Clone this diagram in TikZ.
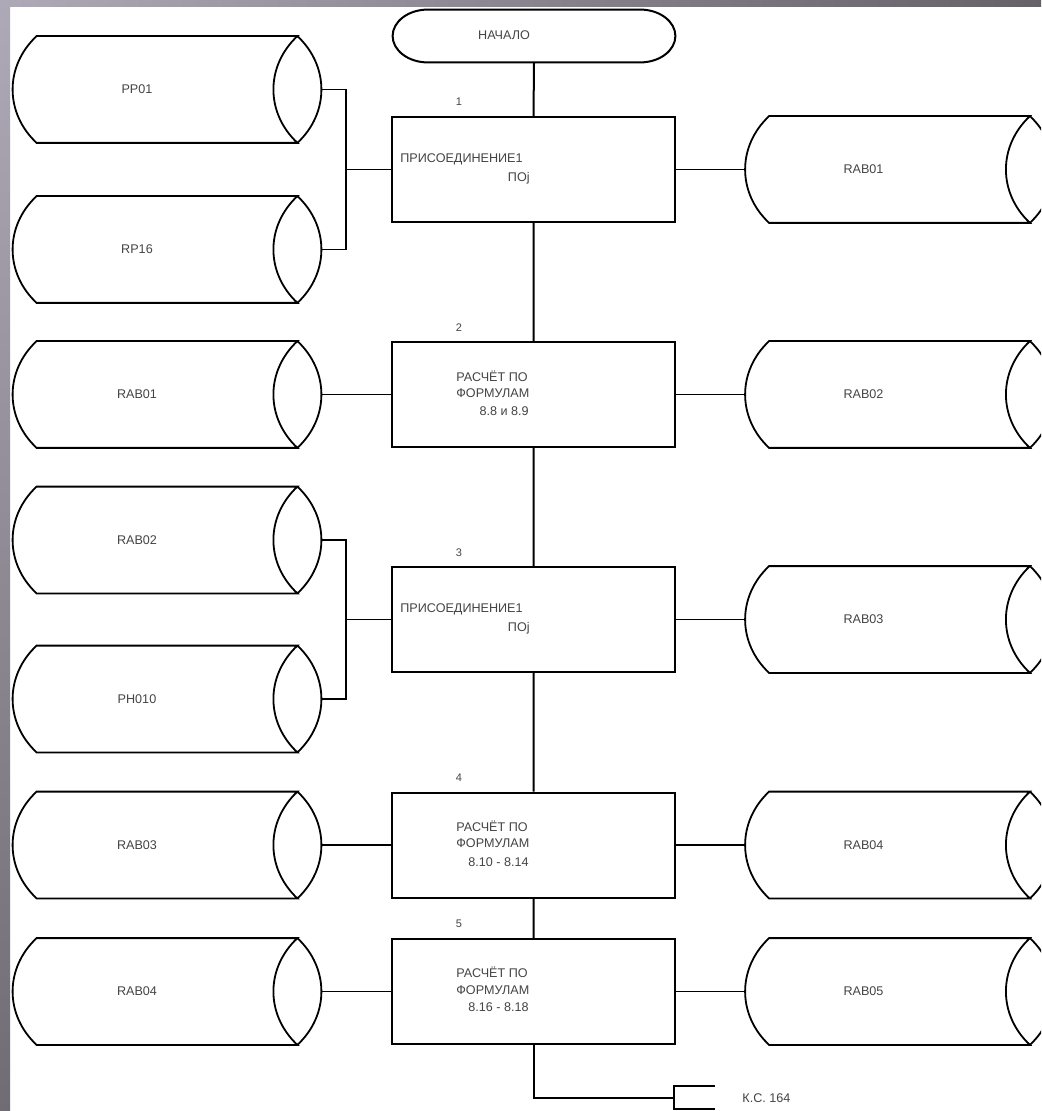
\documentclass[tikz,border=0pt]{standalone}
\usepackage{fontspec}
\setmainfont{Liberation Sans}
\definecolor{inkgray}{RGB}{68,68,68}
\definecolor{frameA}{RGB}{174,169,182}
\definecolor{frameB}{RGB}{112,108,116}
\begin{document}
\begin{tikzpicture}[x=0.5pt,y=-0.5pt,
  every node/.style={font=\fontsize{6.3}{7.5}\selectfont, text=inkgray, inner sep=0pt},
  boxline/.style={draw=black, line width=1pt},
  conn/.style={draw=black, line width=0.6pt},
  opbox/.style={boxline, minimum width=141.5pt, minimum height=52.5pt},
  termbox/.style={minimum width=141pt, minimum height=26pt},
  drum/.style={minimum width=130pt, minimum height=53pt},
  drumL/.style={drum, label={[xshift=-15pt]center:#1}},
  drumR/.style={drum, label={[xshift=-18pt]center:#1}},
  drumline/.style={draw=black, line width=0.9pt},
  numtext/.style={font=\fontsize{5.5}{6}\selectfont}]

\useasboundingbox (0,0) rectangle (1041,1111);
\clip (0,0) rectangle (1041,1111);
\fill[white] (0,0) rectangle (1041,1111);
\shade[top color=frameA, bottom color=frameB] (0,0) rectangle (10,1111);
\shade[left color=frameA, right color=frameB!90!black] (0,0) rectangle (1041,7);

% start terminal
\node[termbox] (T) at (534,36) {};
\node (Tt) at (504,35) {НАЧАЛО};
\draw[boxline] ([xshift=17.5pt]T.north west) -- ([xshift=-17.5pt]T.north east)
  .. controls +(19.3,0) and +(0,-14.4) .. (T.east)
  .. controls +(0,14.4) and +(19.3,0) .. ([xshift=-17.5pt]T.south east)
  -- ([xshift=17.5pt]T.south west)
  .. controls +(-19.3,0) and +(0,14.4) .. (T.west)
  .. controls +(0,-14.4) and +(-19.3,0) .. cycle;

% process blocks
\node[opbox] (B1) at (533.5,169.5) {};
\node[opbox] (B2) at (533.5,394.5) {};
\node[opbox] (B3) at (533.5,619.5) {};
\node[opbox] (B4) at (533.5,845) {};
\node[opbox] (B5) at (533.5,991.5) {};

\node[numtext] (n1) at (459,102) {1};
\node[numtext] (n2) at (459,328) {2};
\node[numtext] (n3) at (459,553) {3};
\node[numtext] (n4) at (459,778) {4};
\node[numtext] (n5) at (459,924) {5};

\node[anchor=west] (b1a) at (400,159) {ПРИСОЕДИНЕНИЕ1};
\node[anchor=east] (b1b) at (530,178) {ПОj};
\node[anchor=west] (b2a) at (456,376) {РАСЧЁТ ПО};
\node[anchor=west] (b2b) at (456,393) {ФОРМУЛАМ};
\node[anchor=east] (b2c) at (529,411) {8.8 и 8.9};
\node[anchor=west] (b3a) at (400,609) {ПРИСОЕДИНЕНИЕ1};
\node[anchor=east] (b3b) at (530,628) {ПОj};
\node[anchor=west] (b4a) at (456,826) {РАСЧЁТ ПО};
\node[anchor=west] (b4b) at (456,843) {ФОРМУЛАМ};
\node[anchor=east] (b4c) at (529,862) {8.10 - 8.14};
\node[anchor=west] (b5a) at (456,972) {РАСЧЁТ ПО};
\node[anchor=west] (b5b) at (456,990) {ФОРМУЛАМ};
\node[anchor=east] (b5c) at (529,1007) {8.16 - 8.18};

% data drums, left column
\node[drumL=PP01]  (L1) at (167,89.5) {};
\node[drumL=RP16]  (L2) at (167,249.5) {};
\node[drumL=RAB01] (L3) at (167,394.5) {};
\node[drumL=RAB02] (L4) at (167,540) {};
\node[drumL=PH010] (L5) at (167,699) {};
\node[drumL=RAB03] (L6) at (167,845) {};
\node[drumL=RAB04] (L7) at (167,991.5) {};

% data drums, right column
\node[drumR=RAB01] (R1) at (899.5,169.5) {};
\node[drumR=RAB02] (R2) at (899.5,394.5) {};
\node[drumR=RAB03] (R3) at (899.5,619.5) {};
\node[drumR=RAB04] (R4) at (899.5,845) {};
\node[drumR=RAB05] (R5) at (899.5,991.5) {};

\foreach \d in {L1,L2,L3,L4,L5,L6,L7,R1,R2,R3,R4,R5}
  \draw[drumline] (\d.north west) .. controls +(-32,30) and +(-32,-30) .. (\d.south west)
    -- (\d.south east) .. controls +(-32,-30) and +(-32,30) .. (\d.north east) -- cycle
    (\d.north east) .. controls +(32,30) and +(32,-30) .. (\d.south east);

% main flow line
\draw[boxline] (T.south) -- (B1.north) (B1.south) -- (B2.north) (B2.south) -- (B3.north)
  (B3.south) -- (B4.north) (B4.south) -- (B5.north);
\coordinate (K) at (674,1098);
\draw[boxline] (B5.south) |- (K);

% inputs
\coordinate (J1) at (346,169.5);
\coordinate (J2) at (346,619.5);
\draw[conn] ([xshift=12pt]L1.east) -| (J1) |- ([xshift=12pt]L2.east);
\draw[conn] (J1) -- (B1.west);
\draw[conn] ([xshift=12pt]L4.east) -| (J2) |- ([xshift=12pt]L5.east);
\draw[conn] (J2) -- (B3.west);
\draw[conn] ([xshift=12pt]L3.east) -- (B2.west);
\draw[conn] ([xshift=12pt]L6.east) -- (B4.west);
\draw[conn] ([xshift=12pt]L7.east) -- (B5.west);

% outputs
\draw[conn] (B1.east) -- ([xshift=-12pt]R1.west);
\draw[conn] (B2.east) -- ([xshift=-12pt]R2.west);
\draw[conn] (B3.east) -- ([xshift=-12pt]R3.west);
\draw[conn] (B4.east) -- ([xshift=-12pt]R4.west);
\draw[conn] (B5.east) -- ([xshift=-12pt]R5.west);

% off-page reference
\coordinate (Ka) at (715,1086);
\coordinate (Kb) at (715,1109);
\draw[conn] (Ka) -| (K) |- (Kb);
\draw[boxline] (K) -- (674,1086) (K) -- (674,1109);
\node[anchor=west] (ks) at (742,1098) {К.С. 164};
\end{tikzpicture}
\end{document}
